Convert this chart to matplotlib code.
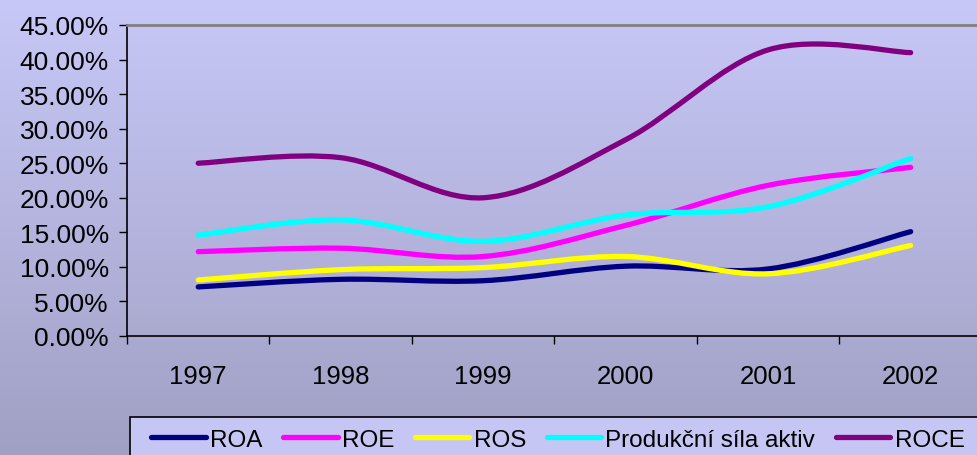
import numpy as np
import matplotlib
matplotlib.use("Agg")
import matplotlib.pyplot as plt
from matplotlib.path import Path
from matplotlib.patches import PathPatch, Rectangle
from matplotlib.lines import Line2D
from matplotlib.colors import LinearSegmentedColormap

# Data (percent)
years = ["1997", "1998", "1999", "2000", "2001", "2002"]
roa = [7.1, 8.2, 8.0, 10.1, 9.7, 15.1]
roe = [12.2, 12.7, 11.5, 16.0, 21.8, 24.4]
ros = [8.1, 9.6, 9.9, 11.5, 9.0, 13.1]
produkcni = [14.6, 16.8, 13.7, 17.5, 18.7, 25.7]
roce = [25.0, 25.8, 20.0, 28.4, 41.4, 41.0]

series = [
    ("ROA", roa, "#000080"),
    ("ROE", roe, "#FF00FF"),
    ("ROS", ros, "#FFFF00"),
    ("Produkční síla aktiv", produkcni, "#00FFFF"),
    ("ROCE", roce, "#800080"),
]

plt.rcParams['font.family'] = ['Liberation Sans', 'DejaVu Sans']


def smooth_path(xs, ys):
    # Excel-like smoothed line: cubic Bezier segments, Catmull-Rom control points
    pts = np.column_stack([xs, ys]).astype(float)
    n = len(pts)
    verts = [pts[0]]
    codes = [Path.MOVETO]
    for i in range(n - 1):
        p0 = pts[i - 1] if i > 0 else pts[i]
        p1 = pts[i]
        p2 = pts[i + 1]
        p3 = pts[i + 2] if i + 2 < n else pts[i + 1]
        c1 = p1 + (p2 - p0) / 6.0
        c2 = p2 - (p3 - p1) / 6.0
        verts += [c1, c2, p2]
        codes += [Path.CURVE4] * 3
    return Path(verts, codes)


fig = plt.figure(figsize=(9.77, 4.56), dpi=100)

# pozadí s přechodem
bg = fig.add_axes([0, 0, 1, 1], zorder=-10)
cmap = LinearSegmentedColormap.from_list("bg", ["#C8C8F8", "#A0A0C4"])
grad = np.linspace(0, 1, 256).reshape(-1, 1)
bg.imshow(grad, aspect="auto", cmap=cmap, extent=[0, 1, 0, 1])
bg.set_xlim(0, 1)
bg.set_ylim(0, 1)
bg.axis("off")

# rámeček legendy (přesahuje okraj obrázku)
bg.add_patch(Rectangle((130 / 977, -0.05), 0.9, 0.0833 + 0.05,
                       facecolor="#C6C6F4", edgecolor="black", lw=1.2, zorder=5))

ax = fig.add_axes([0.130, 0.261, 0.875, 0.682])
ax.set_facecolor("none")

x = np.arange(len(years))
handles = []
for name, vals, col in series:
    patch = PathPatch(smooth_path(x, vals), facecolor="none", edgecolor=col,
                      lw=3.8, capstyle="round", joinstyle="round", zorder=3)
    ax.add_patch(patch)
    handles.append(Line2D([0], [0], color=col, lw=3.8, solid_capstyle="round"))

ax.set_xlim(-0.5, len(years) - 0.5)
ax.set_ylim(0, 45)
ax.set_yticks(np.arange(0, 46, 5))
ax.set_yticklabels([f"{v:.2f}%" for v in np.arange(0, 46, 5)])
ax.set_xticks(x)
ax.set_xticklabels(years)
ax.set_xticks(np.arange(-0.5, len(years), 1.0), minor=True)

ax.tick_params(axis="y", direction="out", length=6, width=1, labelsize=19, pad=7)
ax.tick_params(axis="x", which="major", length=0, labelsize=18.5, pad=20)
ax.tick_params(axis="x", which="minor", direction="out", length=6, width=1)

ax.spines["left"].set_color("black")
ax.spines["bottom"].set_color("black")
ax.spines["left"].set_linewidth(1.2)
ax.spines["bottom"].set_linewidth(1.2)
ax.spines["top"].set_color("#808080")
ax.spines["right"].set_color("#808080")
ax.spines["top"].set_linewidth(2)

leg = fig.legend(handles, [s[0] for s in series], loc="center left",
                 bbox_to_anchor=(151 / 977, 1 - 441 / 456), ncol=5, fontsize=17.5,
                 frameon=False, handlelength=2.25,
                 handletextpad=0.17, columnspacing=0.85, borderpad=0,
                 borderaxespad=0)
leg.set_zorder(10)

fig.savefig("out.png", dpi=100)
